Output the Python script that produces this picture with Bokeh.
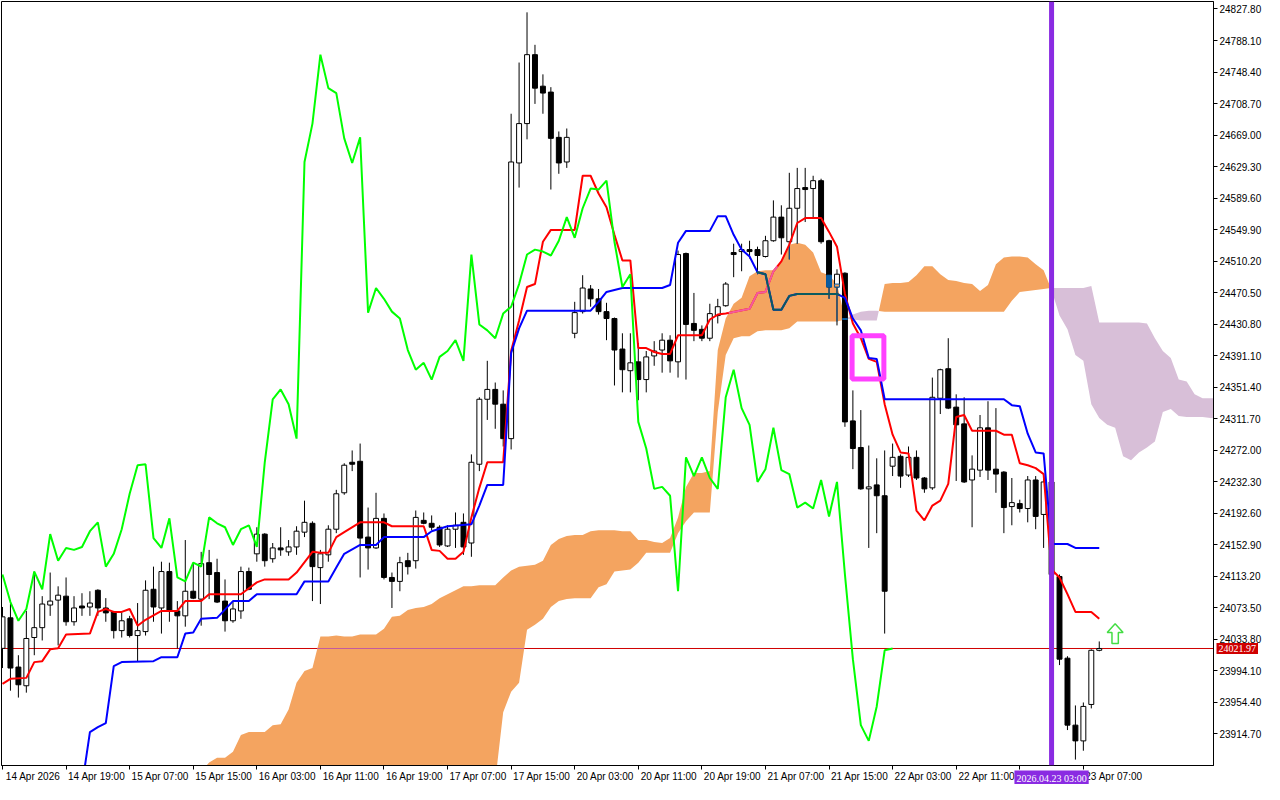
import numpy as np
from bokeh.plotting import figure
from bokeh.models import Range1d, FixedTicker, Span, NumeralTickFormatter, LinearAxis
from bokeh.embed import file_html
from bokeh.resources import INLINE

# ---------------- data (H1 candles, bar index 0..138) ----------------
bar_open = [24022.15, 24060.61, 23998.58, 23975.01, 24035.80, 24048.20, 24076.74, 24082.95, 24087.91, 24055.65,
            24075.50, 24074.26, 24095.35, 24073.02, 24068.06, 24044.48, 24059.37, 24038.28, 24043.24, 24096.59,
            24073.02, 24118.92, 24069.30, 24063.09, 24094.11, 24084.19, 24130.09, 24117.68, 24081.71, 24056.89,
            24069.30, 24118.92, 24141.25, 24166.06, 24135.05, 24148.69, 24143.73, 24149.93, 24168.55, 24179.72,
            24123.88, 24140.01, 24172.27, 24218.17, 24256.63, 24257.87, 24162.34, 24148.69, 24185.92, 24111.48,
            24106.52, 24132.57, 24132.57, 24183.44, 24179.72, 24174.75, 24151.17, 24172.27, 24180.96, 24154.89,
            24254.15, 24336.03, 24348.44, 24329.83, 24286.41, 24633.79, 24683.41, 24770.25, 24730.55, 24723.11,
            24666.04, 24635.03, 24419.16, 24446.45, 24474.98, 24462.58, 24446.45, 24437.77, 24399.31, 24372.01,
            24383.18, 24360.85, 24390.62, 24398.07, 24410.47, 24383.18, 24519.65, 24431.56, 24424.12, 24412.95,
            24441.49, 24453.89, 24520.89, 24522.13, 24524.61, 24524.61, 24515.93, 24535.77, 24565.55, 24534.53,
            24576.72, 24602.77, 24601.53, 24611.45, 24535.77, 24477.46, 24494.83, 24308.74, 24275.24, 24223.13,
            24228.10, 24214.45, 24251.67, 24264.08, 24240.51, 24262.84, 24236.79, 24224.38, 24337.27, 24374.50,
            24326.11, 24305.02, 24234.31, 24246.71, 24300.05, 24247.95, 24244.23, 24200.80, 24204.53, 24198.32,
            24234.31, 24190.88, 24231.82, 24112.72, 24009.75, 23925.39, 23905.54, 23951.44, 24019.67]
bar_high = [24074.26, 24077.98, 24013.47, 24069.30, 24118.92, 24087.91, 24117.68, 24100.31, 24111.48, 24087.91,
            24091.63, 24094.11, 24096.59, 24085.43, 24069.30, 24068.06, 24063.09, 24079.22, 24107.76, 24125.12,
            24131.33, 24130.09, 24081.71, 24158.62, 24130.09, 24143.73, 24146.21, 24135.05, 24109.00, 24080.46,
            24125.12, 24123.88, 24174.75, 24167.30, 24154.89, 24174.75, 24158.62, 24175.99, 24208.25, 24182.20,
            24146.21, 24177.23, 24221.89, 24255.39, 24271.52, 24280.20, 24199.56, 24218.17, 24192.12, 24117.68,
            24137.53, 24142.49, 24195.84, 24193.36, 24189.64, 24177.23, 24177.23, 24193.36, 24192.12, 24266.55,
            24338.51, 24384.46, 24357.12, 24347.20, 24695.82, 24760.33, 24823.60, 24782.66, 24745.44, 24729.31,
            24673.48, 24677.21, 24458.82, 24492.35, 24479.94, 24474.98, 24457.60, 24439.01, 24419.16, 24419.16,
            24406.75, 24396.83, 24409.23, 24419.16, 24416.67, 24523.37, 24520.89, 24470.02, 24429.08, 24456.37,
            24462.58, 24483.67, 24532.05, 24532.05, 24535.77, 24528.33, 24541.97, 24586.64, 24580.44, 24621.38,
            24627.58, 24627.58, 24617.66, 24613.93, 24537.01, 24499.80, 24496.07, 24347.20, 24322.39, 24277.72,
            24261.60, 24271.52, 24280.20, 24266.55, 24276.48, 24271.52, 24238.03, 24363.33, 24374.50, 24412.95,
            24342.24, 24338.51, 24265.31, 24316.18, 24333.55, 24324.87, 24245.47, 24236.79, 24209.49, 24239.27,
            24239.27, 24236.79, 24234.31, 24115.20, 24012.23, 23950.20, 23953.92, 24020.91, 24030.85]
bar_low = [23997.34, 23968.81, 23960.12, 23966.33, 24013.47, 24032.08, 24063.09, 24025.87, 24050.69, 24050.69,
           24063.09, 24063.09, 24063.09, 24055.65, 24034.56, 24035.80, 24035.80, 24006.03, 24038.28, 24055.65,
           24040.76, 24055.65, 24022.15, 24049.45, 24084.19, 24050.69, 24084.19, 24079.22, 24043.24, 24054.41,
           24059.37, 24095.35, 24131.33, 24125.12, 24130.09, 24138.77, 24138.77, 24140.01, 24162.34, 24081.71,
           24077.98, 24131.33, 24167.30, 24215.69, 24245.47, 24111.48, 24121.40, 24147.45, 24109.00, 24073.02,
           24094.11, 24115.20, 24122.64, 24178.48, 24171.03, 24149.93, 24149.93, 24148.69, 24140.01, 24137.53,
           24245.47, 24309.98, 24298.81, 24276.48, 24272.76, 24602.77, 24663.56, 24708.22, 24695.82, 24600.29,
           24620.14, 24627.58, 24412.95, 24443.97, 24452.65, 24442.73, 24410.47, 24353.40, 24344.72, 24344.72,
           24334.79, 24344.72, 24378.22, 24369.53, 24369.53, 24363.33, 24360.85, 24409.23, 24409.23, 24409.23,
           24431.56, 24452.65, 24489.87, 24497.32, 24513.44, 24493.59, 24514.68, 24534.53, 24518.41, 24512.20,
           24532.05, 24559.35, 24565.55, 24532.05, 24462.58, 24429.08, 24301.30, 24247.95, 24221.89, 24148.69,
           24167.30, 24040.76, 24239.27, 24224.38, 24238.03, 24234.31, 24218.17, 24221.89, 24317.42, 24323.63,
           24233.06, 24230.58, 24174.75, 24238.03, 24234.31, 24218.17, 24167.30, 24177.23, 24193.36, 24180.96,
           24172.27, 24148.69, 24109.00, 24001.06, 23919.18, 23881.97, 23893.13, 23946.47, 24018.43]
bar_close = [24061.85, 23997.34, 23976.25, 24034.56, 24048.20, 24077.98, 24081.71, 24089.15, 24055.65, 24073.02,
             24073.02, 24079.22, 24073.02, 24066.82, 24044.48, 24056.89, 24038.28, 24044.48, 24095.35, 24074.26,
             24118.92, 24069.30, 24063.09, 24094.11, 24085.43, 24128.85, 24115.20, 24080.46, 24056.89, 24071.78,
             24118.92, 24096.59, 24166.06, 24132.57, 24148.69, 24146.21, 24149.93, 24169.79, 24180.96, 24125.12,
             24141.25, 24172.27, 24216.93, 24252.91, 24254.15, 24161.10, 24148.69, 24185.92, 24111.48, 24106.52,
             24130.09, 24125.12, 24187.16, 24179.72, 24174.75, 24152.42, 24172.27, 24177.23, 24149.93, 24256.63,
             24336.03, 24348.44, 24329.83, 24286.41, 24635.03, 24683.41, 24770.25, 24728.07, 24721.87, 24664.80,
             24633.79, 24666.04, 24445.21, 24476.20, 24462.58, 24446.45, 24437.77, 24398.07, 24373.26, 24381.94,
             24360.85, 24389.38, 24396.83, 24410.47, 24384.42, 24518.41, 24430.31, 24422.87, 24412.95, 24443.97,
             24452.65, 24481.19, 24518.41, 24524.61, 24522.13, 24517.17, 24535.77, 24565.55, 24539.49, 24576.72,
             24601.53, 24600.29, 24611.45, 24534.53, 24477.46, 24493.59, 24307.50, 24273.99, 24223.13, 24225.62,
             24214.45, 24094.11, 24262.84, 24239.27, 24262.84, 24236.79, 24223.13, 24338.51, 24373.26, 24324.87,
             24303.78, 24231.82, 24247.95, 24300.05, 24246.71, 24241.75, 24199.56, 24205.77, 24198.32, 24234.31,
             24188.40, 24231.82, 24115.20, 24008.51, 23925.39, 23905.54, 23948.95, 24019.67, 24021.97]

# Tenkan-sen (red) vertices: bar index, price
tenkan_bar = [0, 1, 3, 4, 5, 6, 7, 8, 11, 12, 13, 14, 15, 16, 17, 18, 20, 22, 23, 25, 26, 30, 32, 33, 36, 37, 39,
              40, 41, 42, 43, 45, 48, 49, 53, 54, 55, 56, 57, 58, 59, 60, 61, 63, 64, 65, 66, 67, 68, 69, 72, 73,
              74, 75, 76, 77, 78, 79, 80, 81, 82, 83, 84, 85, 88, 89, 90, 91, 94, 95, 96, 97, 98, 99, 100, 101,
              103, 104, 105, 106, 107, 108, 109, 110, 111, 112, 113, 114, 115, 116, 117, 118, 119, 120, 121, 122,
              125, 126, 127, 128, 129, 130, 131, 132, 133, 134, 135, 137, 138]
tenkan_val = [23977.49, 23983.69, 23984.94, 24004.79, 24006.03, 24020.91, 24022.15, 24039.52, 24040.76, 24068.06,
              24071.78, 24068.06, 24068.06, 24071.78, 24050.69, 24058.13, 24069.30, 24069.30, 24081.71, 24081.71,
              24090.39, 24090.39, 24105.28, 24109.00, 24109.00, 24117.68, 24143.73, 24142.49, 24142.49, 24162.34,
              24168.55, 24180.96, 24180.96, 24175.99, 24175.99, 24146.21, 24144.97, 24135.05, 24135.05, 24143.73,
              24187.16, 24224.38, 24256.63, 24256.63, 24396.83, 24435.28, 24477.46, 24481.19, 24534.53, 24549.42,
              24549.42, 24617.66, 24617.66, 24595.32, 24577.96, 24543.22, 24510.96, 24510.96, 24400.55, 24400.55,
              24395.59, 24393.10, 24393.10, 24416.67, 24416.67, 24436.52, 24442.73, 24443.97, 24450.17, 24470.02,
              24471.26, 24497.32, 24509.72, 24530.81, 24558.11, 24564.31, 24564.31, 24546.94, 24528.33, 24468.78,
              24431.56, 24412.95, 24386.88, 24383.18, 24329.83, 24291.37, 24269.04, 24267.79, 24195.84, 24183.44,
              24202.05, 24208.25, 24229.34, 24313.70, 24316.18, 24296.33, 24296.33, 24291.37, 24291.37, 24255.39,
              24252.91, 24249.19, 24241.75, 24121.40, 24111.48, 24090.39, 24068.06, 24068.06, 24059.37]

# Kijun-sen (blue) vertices
kijun_bar = [10, 11, 12, 13, 14, 15, 19, 20, 22, 23, 24, 25, 27, 29, 31, 32, 37, 38, 41, 42, 43, 45, 47, 48, 53,
             54, 56, 59, 60, 61, 63, 64, 65, 66, 74, 75, 76, 78, 83, 84, 85, 86, 89, 90, 91, 92, 93, 94, 95, 96,
             97, 98, 99, 100, 105, 106, 107, 108, 109, 110, 111, 126, 127, 128, 129, 130, 131, 132, 134, 135, 138]
kijun_val = [23848.47, 23916.70, 23922.90, 23927.87, 23999.82, 24004.79, 24006.03, 24010.99, 24010.99, 24040.76,
             24042.00, 24059.37, 24060.61, 24081.71, 24081.71, 24090.39, 24090.39, 24106.52, 24106.52, 24123.88,
             24141.25, 24152.42, 24152.42, 24162.34, 24162.34, 24169.79, 24175.99, 24178.48, 24202.05, 24228.10,
             24228.10, 24394.34, 24425.36, 24447.69, 24447.69, 24458.82, 24471.26, 24476.20, 24476.20, 24479.94,
             24533.29, 24548.18, 24548.18, 24566.79, 24566.79, 24543.22, 24524.61, 24515.93, 24496.07, 24493.59,
             24448.93, 24448.93, 24466.30, 24468.78, 24468.78, 24463.82, 24437.77, 24422.87, 24388.14, 24386.88,
             24336.03, 24336.03, 24328.59, 24327.35, 24292.61, 24269.04, 24267.79, 24153.66, 24153.66, 24148.69,
             24148.69]

# Senkou span A / B (cloud), bar index 25..153
cloud_bar = list(range(25, 154))
span_a = [23867.08, 23878.24, 23884.44, 23884.44, 23891.89, 23912.98, 23916.70, 23916.70, 23916.70, 23925.39,
          23926.63, 23945.24, 23978.73, 23993.62, 23997.34, 24037.04, 24037.04, 24038.28, 24037.04, 24037.04,
          24039.52, 24039.52, 24039.52, 24046.96, 24061.85, 24063.09, 24070.54, 24073.02, 24074.26, 24077.98,
          24085.43, 24090.39, 24095.35, 24100.31, 24100.31, 24101.56, 24101.56, 24101.56, 24111.48, 24120.16,
          24125.12, 24126.37, 24127.61, 24132.57, 24152.42, 24159.86, 24163.58, 24164.83, 24164.83, 24169.79,
          24171.03, 24171.03, 24171.03, 24169.79, 24169.79, 24158.62, 24158.62, 24156.14, 24154.89, 24161.10,
          24187.16, 24225.62, 24242.99, 24242.99, 24245.47, 24398.07, 24437.77, 24456.37, 24463.82, 24491.11,
          24497.32, 24498.56, 24498.56, 24508.48, 24530.81, 24533.29, 24530.81, 24520.89, 24496.07, 24492.35,
          24481.19, 24437.77, 24436.52, 24435.28, 24435.28, 24435.28, 24481.19, 24482.43, 24482.43, 24483.67,
          24492.35, 24503.52, 24503.52, 24493.59, 24486.15, 24484.91, 24482.43, 24481.19, 24472.50, 24479.94,
          24506.00, 24514.68, 24515.93, 24515.93, 24514.68, 24506.00, 24498.56, 24473.74, 24441.49, 24424.12,
          24391.87, 24384.42, 24329.83, 24312.46, 24303.78, 24300.05, 24264.08, 24259.12, 24269.04, 24275.24,
          24282.69, 24319.91, 24323.63, 24314.95, 24313.70, 24313.70, 24313.70, 24312.46, 24312.46]
span_b = [23840.00] * 37 + [
          23854.67, 23941.52, 23967.57, 23978.73, 24045.72, 24051.93, 24059.37, 24074.26, 24081.71, 24084.19,
          24085.43, 24085.43, 24085.43, 24099.07, 24102.80, 24118.92, 24120.16, 24121.40, 24130.09, 24142.49,
          24142.49, 24142.49, 24142.49, 24167.30, 24182.20, 24193.36, 24193.36, 24193.36, 24319.91, 24391.87,
          24412.95, 24415.43, 24415.43, 24421.63, 24422.87, 24422.87, 24422.87, 24425.36, 24434.04, 24434.04,
          24434.04, 24434.04, 24434.04, 24434.04, 24436.52, 24442.73, 24446.45, 24447.69, 24447.69, 24446.45,
          24446.45, 24446.45, 24446.45, 24446.45, 24446.45, 24446.45, 24446.45, 24446.45, 24446.45, 24446.45,
          24446.45, 24446.45, 24446.45, 24446.45, 24446.45, 24460.09, 24471.26, 24472.50, 24473.74, 24474.98,
          24476.22, 24476.22, 24476.22, 24476.22, 24476.22, 24478.70, 24432.80, 24432.80, 24432.80, 24432.80,
          24432.80, 24432.80, 24431.56, 24412.95, 24396.83, 24388.14, 24360.85, 24358.36, 24342.24, 24337.27,
          24337.27, 24337.27, 24337.27]

x_tick_bars = [0, 8, 16, 24, 32, 40, 48, 56, 64, 72, 80, 88, 96, 104, 112, 120, 128, 136]
x_tick_labels = ["14 Apr 2026", "14 Apr 19:00", "15 Apr 07:00", "15 Apr 15:00", "16 Apr 03:00",
                 "16 Apr 11:00", "16 Apr 19:00", "17 Apr 07:00", "17 Apr 15:00", "20 Apr 03:00",
                 "20 Apr 11:00", "20 Apr 19:00", "21 Apr 07:00", "21 Apr 15:00", "22 Apr 03:00",
                 "22 Apr 11:00", "22 Apr 19:00", "23 Apr 07:00"]
y_tick_values = [23914.70, 23954.40, 23994.10, 24033.80, 24073.50, 24113.20, 24152.90, 24192.60, 24232.30,
                 24272.00, 24311.70, 24351.40, 24391.10, 24430.80, 24470.50, 24510.20, 24549.90, 24589.60,
                 24629.30, 24669.00, 24708.70, 24748.40, 24788.10, 24827.80]

chikou_shift = 26
current_price = 24021.97
marker_bar = 132
marker_text = "2026.04.23 03:00"
box_left_bar, box_right_bar = 106.9, 110.9
box_top_price, box_bottom_price = 24416.05, 24361.46
arrow_bar = 140
arrow_base_price, arrow_tip_price = 24028.4, 24053.2

# ---------------- figure ----------------
FONT = "Liberation Sans"
X0, X1 = -0.125, 152.375
Y0, Y1 = 23874.52, 24837.25
p = figure(width=1264, height=784, x_range=Range1d(X0, X1), y_range=Range1d(Y0, Y1),
           y_axis_location="right", output_backend="svg", toolbar_location=None,
           min_border_left=1, min_border_top=1, min_border_right=50, min_border_bottom=19)
p.xgrid.visible = False
p.ygrid.visible = False
p.background_fill_color = "white"
p.border_fill_color = "white"
p.outline_line_color = "black"
p.outline_line_width = 1

for ax in (p.xaxis[0], p.yaxis[0]):
    ax.axis_line_color = "black"
    ax.major_tick_line_color = "black"
    ax.major_tick_out = 4
    ax.major_tick_in = 0
    ax.minor_tick_line_color = None
    ax.major_label_text_font = FONT
    ax.major_label_text_font_size = "10px"
    ax.major_label_text_color = "black"
    ax.major_label_standoff = 2

# x axis: tick marks at the bars (no text), labels written to the right of each tick (second axis)
p.xaxis[0].ticker = FixedTicker(ticks=x_tick_bars)
p.xaxis[0].major_label_text_color = None
p.xaxis[0].major_label_text_font_size = "1px"
p.xaxis[0].major_label_standoff = 0
LABEL_SHIFT = 3.85  # half a label width (in bars) so the text starts just right of its tick
lab_ticks = [b + LABEL_SHIFT for b in x_tick_bars]
lab_axis = LinearAxis(ticker=FixedTicker(ticks=lab_ticks),
                      major_label_overrides={t: s for t, s in zip(lab_ticks, x_tick_labels)},
                      axis_line_color=None, major_tick_line_color=None, minor_tick_line_color=None,
                      major_tick_out=0, major_tick_in=0, major_label_standoff=1,
                      major_label_text_font=FONT, major_label_text_font_size="10px",
                      major_label_text_color="black")
p.add_layout(lab_axis, "below")

p.yaxis[0].ticker = FixedTicker(ticks=y_tick_values)
p.yaxis[0].formatter = NumeralTickFormatter(format="0.00")

# ---------------- cloud ----------------
xb = np.array(cloud_bar, dtype=float)
sa = np.array(span_a)
sb = np.array(span_b)
xs, ya, yb = [xb[0]], [sa[0]], [sb[0]]
for i in range(len(xb) - 1):
    d0 = sa[i] - sb[i]
    d1 = sa[i + 1] - sb[i + 1]
    if d0 * d1 < 0:
        t = d0 / (d0 - d1)
        xc = xb[i] + t * (xb[i + 1] - xb[i])
        yc = sa[i] + t * (sa[i + 1] - sa[i])
        xs.append(xc); ya.append(yc); yb.append(yc)
    xs.append(xb[i + 1]); ya.append(sa[i + 1]); yb.append(sb[i + 1])
xs = np.array(xs); ya = np.array(ya); yb = np.array(yb)
top = np.maximum(ya, yb)

p.add_layout(Span(location=current_price, dimension="width", line_color="#D00000", line_width=1,
                  level="underlay"))
p.varea(x=xs, y1=yb, y2=top, fill_color="#F4A460", fill_alpha=1.0)
p.varea(x=xs, y1=ya, y2=top, fill_color="#D8BFD8", fill_alpha=1.0)

XOR_RED, XOR_BLUE, XOR_BLACK, XOR_PRICE = "#F45B9F", "#0B5B60", "#0B5B9F", "#C35B9F"


def runs(mask):
    out, start = [], None
    for k, m in enumerate(mask):
        if m and start is None:
            start = k
        if start is not None and (not m or k == len(mask) - 1):
            out.append((start, k if m else k - 1))
            start = None
    return out


def in_orange(xq, yq):
    ag = np.interp(xq, xs, ya, left=np.nan, right=np.nan)
    bg = np.interp(xq, xs, yb, left=np.nan, right=np.nan)
    with np.errstate(invalid="ignore"):
        return (ag > bg) & (yq >= bg) & (yq <= ag)


# price line as seen through the cloud
xg = np.linspace(xs[0], xs[-1], 20000)
for a, b in runs(in_orange(xg, np.full_like(xg, current_price))):
    p.segment(x0=[xg[a]], y0=[current_price], x1=[xg[b]], y1=[current_price], line_color=XOR_PRICE,
              line_width=1)

# ---------------- candles ----------------
idx = np.arange(len(bar_open))
o = np.array(bar_open); h = np.array(bar_high); l = np.array(bar_low); c = np.array(bar_close)
up = c >= o
body_top = np.maximum(o, c)
body_bot = np.minimum(o, c)
W = 0.62
p.segment(x0=idx, y0=l, x1=idx, y1=h, line_color="black", line_width=1)
p.vbar(x=idx[up], width=W, top=body_top[up], bottom=body_bot[up], fill_color="white", line_color="black",
       line_width=1)
p.vbar(x=idx[~up], width=W, top=body_top[~up], bottom=body_bot[~up], fill_color="black", line_color="black",
       line_width=1)

# candles as seen through the cloud
for i in idx:
    if i < xs[0] or i > xs[-1]:
        continue
    ai = np.interp(i, xs, ya); bi = np.interp(i, xs, yb)
    if ai <= bi:
        continue
    lo, hi = max(l[i], bi), min(h[i], ai)
    if hi > lo:
        p.segment(x0=[i], y0=[lo], x1=[i], y1=[hi], line_color=XOR_BLACK, line_width=1)
    blo, bhi = max(body_bot[i], bi), min(body_top[i], ai)
    if bhi > blo:
        fill = "#F4A460" if up[i] else XOR_BLACK
        p.vbar(x=[i], width=W, top=[bhi], bottom=[blo], fill_color=fill, line_color=XOR_BLACK, line_width=1)

# ---------------- Ichimoku lines ----------------
p.line(tenkan_bar, tenkan_val, line_color="#FF0000", line_width=2)
p.line(kijun_bar, kijun_val, line_color="#0000FF", line_width=2)


def tint_line(xv, yv, color):
    xv = np.array(xv, dtype=float); yv = np.array(yv, dtype=float)
    xq = np.linspace(xv[0], xv[-1], 40000)
    yq = np.interp(xq, xv, yv)
    for a, b in runs(in_orange(xq, yq)):
        x0, x1 = xq[a], xq[b]
        inner = (xv > x0) & (xv < x1)
        px = np.concatenate([[x0], xv[inner], [x1]])
        py = np.concatenate([[yq[a]], yv[inner], [yq[b]]])
        p.line(px, py, line_color=color, line_width=2)


tint_line(tenkan_bar, tenkan_val, XOR_RED)
tint_line(kijun_bar, kijun_val, XOR_BLUE)

chikou_x = list(range(0, len(bar_close) - chikou_shift))
chikou_y = bar_close[chikou_shift:]
p.line(chikou_x, chikou_y, line_color="#00FF00", line_width=2)

# ---------------- objects ----------------
p.quad(left=[box_left_bar], right=[box_right_bar], top=[box_top_price], bottom=[box_bottom_price],
       fill_alpha=0, line_color="#FF40FF", line_width=5)

hh = arrow_tip_price - arrow_base_price
ax_ = [arrow_bar - 0.4, arrow_bar + 0.4, arrow_bar + 0.4, arrow_bar + 1.0, arrow_bar, arrow_bar - 1.0,
       arrow_bar - 0.4]
ay_ = [arrow_base_price, arrow_base_price, arrow_base_price + 0.55 * hh, arrow_base_price + 0.55 * hh,
       arrow_tip_price, arrow_base_price + 0.55 * hh, arrow_base_price + 0.55 * hh]
p.patch(ax_, ay_, fill_color="white", line_color="#44DD44", line_width=1.5)

p.add_layout(Span(location=marker_bar, dimension="height", line_color="#8A2BE2", line_width=5))

# labels sitting on the axes (drawn at overlay level so they are not clipped to the frame)
p.text(x=[X1], y=[current_price], text=[f"{current_price:.2f}"], x_offset=3, text_color="white",
       text_font=FONT, text_font_size="10px", text_baseline="middle", text_align="left",
       background_fill_color="#D00000", padding=2, level="overlay")
p.text(x=[marker_bar], y=[Y0], text=[marker_text], y_offset=5, text_color="white",
       text_font=FONT, text_font_size="10px", text_baseline="top", text_align="center",
       background_fill_color="#8A2BE2", padding=2, level="overlay")

open("out.html", "w").write(file_html(p, INLINE))
